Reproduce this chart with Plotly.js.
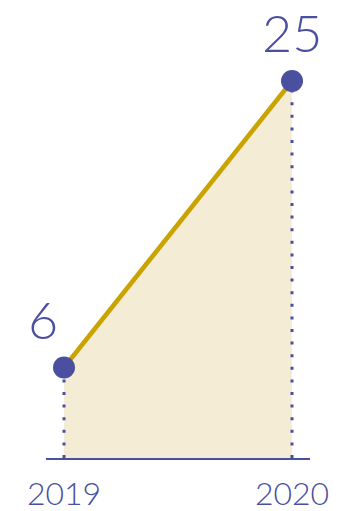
<!DOCTYPE html>
<html><head><meta charset="utf-8">
<script src="https://cdn.plot.ly/plotly-3.0.1.min.js"></script>
<style>html,body{margin:0;padding:0;background:#fff}#chart{width:363px;height:511px}</style>
</head><body><div id="chart"></div>
<script>
const years = [2019, 2020];
const values = [6, 25];
const tickLabels = ['2019', '2020'];
const labelXShift = [-21, 0];

const BLUE = '#4a4f9f', GOLD = '#c9a300', FILL = '#f5ecd6';
const FONT = 'Lato, "Open Sans", sans-serif';

const traces = [{
  x: years, y: values, type: 'scatter', mode: 'lines',
  line: {color: GOLD, width: 4.5}, fill: 'tozeroy', fillcolor: FILL,
  hoverinfo: 'skip', cliponaxis: false
}];
years.forEach((yr, i) => {
  traces.push({
    x: [yr, yr], y: [0, values[i]], type: 'scatter', mode: 'lines',
    line: {color: BLUE, width: 3, dash: '3px,9.6px'}, hoverinfo: 'skip', cliponaxis: false
  });
});
traces.push({
  x: years, y: values, type: 'scatter', mode: 'markers',
  marker: {color: BLUE, size: 22}, hoverinfo: 'skip', cliponaxis: false
});

const annotations = years.map((yr, i) => ({
  x: yr, y: values[i], xref: 'x', yref: 'y', text: String(values[i]),
  showarrow: false, yshift: 49, xshift: labelXShift[i],
  font: {family: FONT, size: 52, color: BLUE, weight: 300}
}));

const layout = {
  width: 363, height: 511,
  margin: {l: 46, r: 53, t: 30, b: 53},
  paper_bgcolor: '#fff', plot_bgcolor: '#fff',
  showlegend: false,
  xaxis: {
    range: [2019 - 18/228, 2020 + 18/228], tickvals: years, ticktext: tickLabels,
    showgrid: false, zeroline: false, showline: true, linecolor: BLUE, linewidth: 2,
    ticks: '', ticklabelstandoff: 7,
    tickfont: {family: FONT, size: 32, color: BLUE, weight: 300}, fixedrange: true
  },
  yaxis: {
    range: [0, 428/15.08], visible: false, showgrid: false, zeroline: false, fixedrange: true
  },
  annotations: annotations
};
Plotly.newPlot('chart', traces, layout, {displayModeBar: false, staticPlot: true});
</script></body></html>
